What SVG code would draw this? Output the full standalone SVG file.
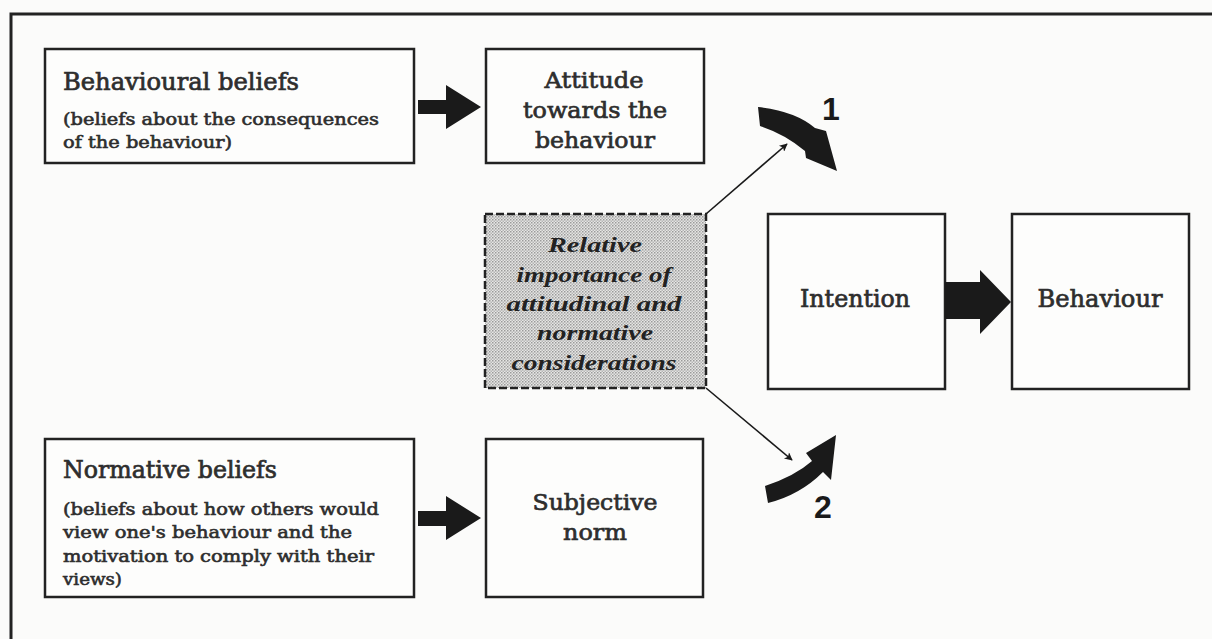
<svg xmlns="http://www.w3.org/2000/svg" width="1212" height="639" viewBox="0 0 1212 639">
  <style>
    .box { fill: #fdfdfc; stroke: #222; stroke-width: 2.5; }
    .dash { fill: url(#stipple); stroke: #222; stroke-width: 2.5; stroke-dasharray: 8 3; }
    .lbl { font-family: "DejaVu Serif", "Liberation Serif", serif; font-weight: normal; fill: #2e2e2e; stroke: #2e2e2e; stroke-width: 0.7; }
    .big { font-size: 24px; }
    .mid { font-size: 23px; }
    .small { font-size: 16.5px; stroke-width: 0.6; }
    .ital { font-family: "Liberation Serif", "DejaVu Serif", serif; font-style: italic; font-weight: bold; font-size: 21px; fill: #222; }
    .num { font-family: "Liberation Sans", Arial, sans-serif; font-weight: bold; font-size: 32px; fill: #1a1a1a; }
    .thick { fill: #1a1a1a; }
    .thin { stroke: #1a1a1a; stroke-width: 1.6; fill: none; marker-end: url(#tip); }
  </style>
  <defs>
    <pattern id="stipple" width="3" height="3" patternUnits="userSpaceOnUse">
      <rect width="3" height="3" fill="#e6e6e4"/>
      <rect x="0" y="0" width="1.5" height="1.5" fill="#9a9a9a"/>
      <rect x="1.5" y="1.5" width="1.5" height="1.5" fill="#b5b5b5"/>
    </pattern>
    <marker id="tip" viewBox="0 0 10 10" refX="9" refY="5" markerWidth="12" markerHeight="8" markerUnits="userSpaceOnUse" orient="auto">
      <path d="M0,0 L10,5 L0,10 L2.5,5 Z" fill="#1a1a1a"/>
    </marker>
  </defs>

  <rect width="1212" height="639" fill="#fbfbfa"/>

  <!-- outer frame (top and left rules) -->
  <path d="M11,639 L11,14 L1212,14" fill="none" stroke="#222" stroke-width="3"/>

  <g id="behavioural-beliefs">
    <rect class="box" x="45" y="49" width="369" height="114"/>
    <text class="lbl big" x="63" y="90" textLength="236" lengthAdjust="spacingAndGlyphs">Behavioural beliefs</text>
    <text class="lbl small" x="63" y="125" textLength="316" lengthAdjust="spacingAndGlyphs">(beliefs about the consequences</text>
    <text class="lbl small" x="63" y="148" textLength="169" lengthAdjust="spacingAndGlyphs">of the behaviour)</text>
  </g>

  <g id="attitude">
    <rect class="box" x="486" y="49" width="218" height="114"/>
    <text class="lbl mid" x="594" y="88" text-anchor="middle" textLength="99" lengthAdjust="spacingAndGlyphs">Attitude</text>
    <text class="lbl mid" x="595" y="118" text-anchor="middle" textLength="144" lengthAdjust="spacingAndGlyphs">towards the</text>
    <text class="lbl mid" x="595" y="148" text-anchor="middle" textLength="120" lengthAdjust="spacingAndGlyphs">behaviour</text>
  </g>

  <g id="relative-importance">
    <rect class="dash" x="485" y="214" width="221" height="174"/>
    <text class="ital" x="595" y="252" text-anchor="middle" textLength="94" lengthAdjust="spacingAndGlyphs">Relative</text>
    <text class="ital" x="594" y="282" text-anchor="middle" textLength="155" lengthAdjust="spacingAndGlyphs">importance of</text>
    <text class="ital" x="594" y="311" text-anchor="middle" textLength="175" lengthAdjust="spacingAndGlyphs">attitudinal and</text>
    <text class="ital" x="595" y="340" text-anchor="middle" textLength="116" lengthAdjust="spacingAndGlyphs">normative</text>
    <text class="ital" x="594" y="370" text-anchor="middle" textLength="165" lengthAdjust="spacingAndGlyphs">considerations</text>
  </g>

  <g id="intention">
    <rect class="box" x="768" y="214" width="177" height="175"/>
    <text class="lbl big" x="855" y="307" text-anchor="middle" textLength="110" lengthAdjust="spacingAndGlyphs">Intention</text>
  </g>

  <g id="behaviour">
    <rect class="box" x="1012" y="214" width="177" height="175"/>
    <text class="lbl big" x="1100" y="307" text-anchor="middle" textLength="125" lengthAdjust="spacingAndGlyphs">Behaviour</text>
  </g>

  <g id="normative-beliefs">
    <rect class="box" x="45" y="439" width="369" height="158"/>
    <text class="lbl big" x="63" y="478" textLength="214" lengthAdjust="spacingAndGlyphs">Normative beliefs</text>
    <text class="lbl small" x="63" y="515" textLength="316" lengthAdjust="spacingAndGlyphs">(beliefs about how others would</text>
    <text class="lbl small" x="63" y="538" textLength="289" lengthAdjust="spacingAndGlyphs">view one's behaviour and the</text>
    <text class="lbl small" x="63" y="562" textLength="311" lengthAdjust="spacingAndGlyphs">motivation to comply with their</text>
    <text class="lbl small" x="63" y="585" textLength="59" lengthAdjust="spacingAndGlyphs">views)</text>
  </g>

  <g id="subjective-norm">
    <rect class="box" x="486" y="439" width="217" height="158"/>
    <text class="lbl mid" x="595" y="510" text-anchor="middle" textLength="125" lengthAdjust="spacingAndGlyphs">Subjective</text>
    <text class="lbl mid" x="595" y="540" text-anchor="middle" textLength="64" lengthAdjust="spacingAndGlyphs">norm</text>
  </g>

  <g id="connectors">
    <!-- block arrows -->
    <polygon class="thick" points="418,100 446,100 446,85 481,107 446,129 446,114 418,114"/>
    <polygon class="thick" points="418,511 446,511 446,496 481,518 446,540 446,526 418,526"/>
    <polygon class="thick" points="945,282 980,282 980,270 1011,302 980,334 980,319 945,319"/>
    <!-- thin weighting arrows -->
    <line class="thin" x1="706" y1="214" x2="787" y2="144"/>
    <line class="thin" x1="706" y1="388" x2="792" y2="460"/>
    <!-- curved arrows into intention -->
    <path class="thick" d="M758,107 Q795,111 815,128 L826,131 L837,171 L806,158 L805,151 Q785,134 760,126 Z"/>
    <path class="thick" d="M765,486 Q795,476 812,461 L806,453 L836,435 L831,480 L823,472 Q800,495 768,503 Z"/>
    <text class="num" x="831" y="120" text-anchor="middle">1</text>
    <text class="num" x="823" y="518" text-anchor="middle">2</text>
  </g>
</svg>
